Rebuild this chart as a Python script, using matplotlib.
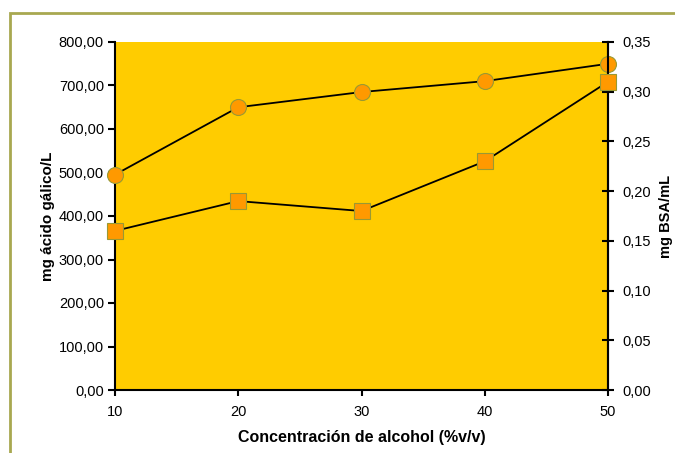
import matplotlib.pyplot as plt
from matplotlib.patches import Rectangle
from matplotlib.ticker import FuncFormatter

plt.rcParams['font.family'] = ['Liberation Sans', 'DejaVu Sans']

# alcohol concentration (%v/v)
concentracion = [10, 20, 30, 40, 50]
# total phenolics, mg gallic acid / L
fenoles = [495, 650, 685, 710, 750]
# protein, mg BSA / mL
proteina = [0.16, 0.19, 0.18, 0.23, 0.31]

fondo = '#FFCC00'
relleno = '#FF9900'
borde = '#999933'

fig = plt.figure(figsize=(6.75, 4.53), dpi=100)
ax = fig.add_axes([115 / 675, 1 - 390 / 453, (608 - 115) / 675, (390 - 42) / 453])
ax.set_facecolor(fondo)

# outer frame of the chart area
fig.patches.append(Rectangle((10 / 675, -0.1), 1.1, 1 - 13 / 453 + 0.1,
                             transform=fig.transFigure, fill=False,
                             edgecolor='#A8A850', linewidth=2))

ax.plot(concentracion, fenoles, color='black', linewidth=1.3, marker='o',
        markersize=11.5, markerfacecolor=relleno, markeredgecolor=borde,
        markeredgewidth=0.8, clip_on=False, zorder=5)
ax.set_xlim(10, 50)
ax.set_ylim(0, 800)
ax.set_xticks(concentracion)
ax.set_yticks(range(0, 801, 100))
coma2 = FuncFormatter(lambda v, p: '{:.2f}'.format(v).replace('.', ','))
ax.yaxis.set_major_formatter(coma2)

ax2 = ax.twinx()
ax2.plot(concentracion, proteina, color='black', linewidth=1.3, marker='s',
         markersize=11, markerfacecolor=relleno, markeredgecolor=borde,
         markeredgewidth=0.8, clip_on=False, zorder=5)
ax2.set_ylim(0, 0.35)
ax2.set_yticks([i * 0.05 for i in range(8)])
ax2.yaxis.set_major_formatter(coma2)

for a in (ax, ax2):
    a.spines['top'].set_visible(False)
    for s in ('left', 'right', 'bottom'):
        a.spines[s].set_linewidth(1.5)
ax2.spines['left'].set_visible(False)
ax2.spines['bottom'].set_visible(False)

ax.tick_params(axis='y', direction='out', length=5, width=1.5, labelsize=10.5, pad=3)
ax.tick_params(axis='x', direction='out', length=4, width=1.5, labelsize=10.5, pad=7)
ax2.tick_params(axis='y', direction='inout', length=8, width=1.5, labelsize=10.5, pad=6)

ax.set_xlabel('Concentración de alcohol (%v/v)', fontsize=11.5, fontweight='bold', labelpad=8)
ax.set_ylabel('mg ácido gálico/L', fontsize=11, fontweight='bold', labelpad=3)
ax2.set_ylabel('mg BSA/mL', fontsize=10.5, fontweight='bold', labelpad=6)

ax2.set_zorder(ax.get_zorder() + 1)
ax.patch.set_visible(True)
ax2.patch.set_visible(False)

fig.savefig('out.png', dpi=100)
